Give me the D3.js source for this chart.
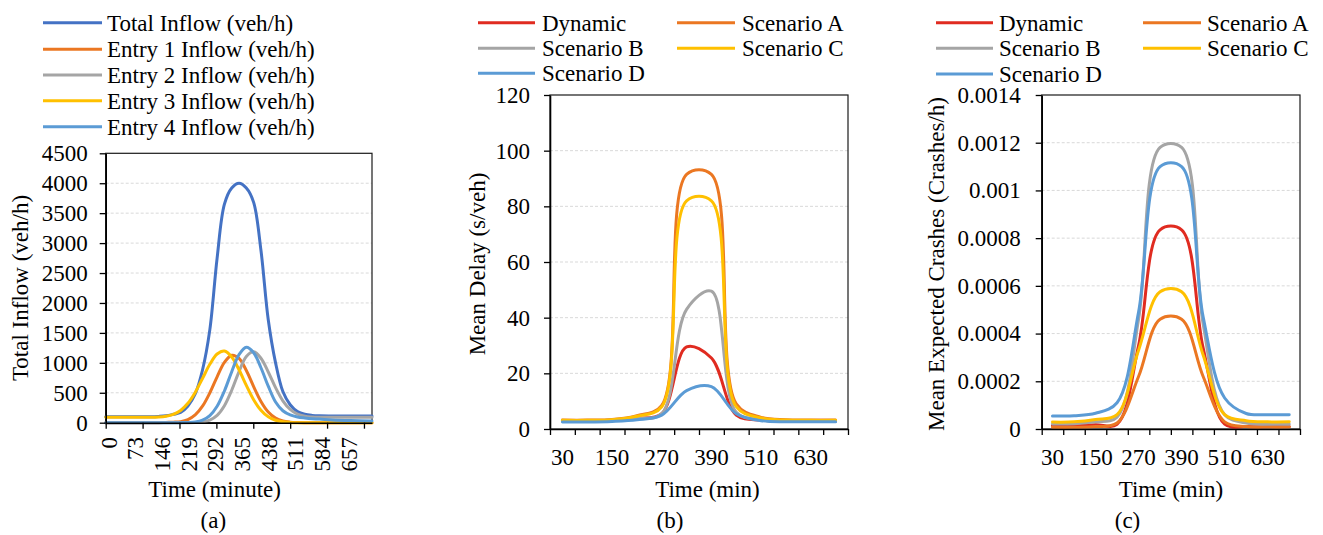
<!DOCTYPE html>
<html>
<head>
<meta charset="utf-8">
<script src="https://cdn.jsdelivr.net/npm/d3@7"></script>
<style>
  html, body { margin: 0; padding: 0; background: #fff; }
  svg text { font-family: "Liberation Serif", "Times New Roman", Tinos, "DejaVu Serif", serif !important; }
</style>
</head>
<body>
<svg id="chart" width="1323" height="535"></svg>
<script>
// ---------- (a) inflow profiles, sampled in minutes ----------
const inflowTimes = [0, 60, 120, 145, 165, 185, 205, 225, 245, 265, 285, 305, 325, 345, 365,
  385, 405, 425, 445, 465, 485, 505, 525, 545, 565, 585, 620, 670, 729];
const totalInflow = [100, 100, 100, 105, 115, 140, 170, 280, 480, 880, 1550, 2750, 3650, 3920, 4000,
  3920, 3680, 2880, 1720, 1000, 520, 300, 185, 140, 122, 115, 112, 110, 110];
const entry1Inflow = [0, 0, 0, 0, 5, 9, 18, 52, 130, 276, 498, 767, 1007, 1127, 1074,
  872, 603, 356, 179, 77, 28, 9, 2, 0, 0, 0, 0, 0, 0];
const entry2Inflow = [0, 0, 0, 0, 0, 0, 0, 0, 3, 13, 44, 123, 284, 542, 853,
  1106, 1184, 1076, 847, 585, 366, 221, 143, 108, 95, 91, 90, 90, 90];
const entry3Inflow = [90, 90, 91, 96, 109, 140, 205, 324, 506, 739, 975, 1148, 1198, 1099, 884,
  623, 384, 208, 98, 41, 15, 5, 1, 0, 0, 0, 0, 0, 0];
const entry4Inflow = [0, 0, 0, 0, 0, 0, 1, 3, 12, 42, 118, 274, 530, 852, 1137,
  1260, 1169, 918, 610, 345, 200, 130, 95, 78, 66, 60, 45, 35, 30];
const inflowNames = ["Total Inflow (veh/h)", "Entry 1 Inflow (veh/h)", "Entry 2 Inflow (veh/h)",
  "Entry 3 Inflow (veh/h)", "Entry 4 Inflow (veh/h)"];
const inflowColors = ["#4472C4", "#EB7722", "#A5A5A5", "#FFC000", "#5B9BD5"];
const inflowYTicks = [0, 500, 1000, 1500, 2000, 2500, 3000, 3500, 4000, 4500];
const inflowXLabels = [0, 73, 146, 219, 292, 365, 438, 511, 584, 657];
const inflowXTickMarks = [0, 101, 202, 303, 404, 505, 606, 707];

// ---------- (b) and (c) scenario results per time period ----------
const timeCats = [30, 90, 150, 210, 270, 330, 390, 450, 510, 570, 630, 690];
const timeLabels = [30, 150, 270, 390, 510, 630];
const scenarioNames = ["Dynamic", "Scenario A", "Scenario B", "Scenario C", "Scenario D"];
const scenarioColors = ["#E02B20", "#EB7722", "#A5A5A5", "#FFC000", "#5B9BD5"];

const delayDynamic = [3.0, 3.0, 3.1, 3.8, 5.5, 29.5, 25.5, 5.0, 3.2, 2.9, 2.8, 2.8];
const delayA = [3.2, 3.2, 3.4, 4.8, 8.5, 91.5, 91.5, 9.0, 4.2, 3.3, 3.2, 3.2];
const delayB = [3.0, 3.0, 3.1, 3.8, 5.5, 43.0, 49.5, 6.0, 3.3, 2.9, 2.9, 2.9];
const delayC = [3.1, 3.1, 3.3, 4.6, 8.0, 82.0, 82.0, 8.0, 4.0, 3.2, 3.1, 3.1];
const delayD = [2.5, 2.5, 2.7, 3.3, 5.0, 13.8, 15.2, 5.5, 3.0, 2.6, 2.6, 2.6];
const delayYTicks = [0, 20, 40, 60, 80, 100, 120];

const crashDynamic = [0.000014, 0.000014, 0.000018, 0.00002, 0.00035, 0.000835, 0.000835, 0.00034, 0.00002, 0.00001, 0.00001, 0.00001];
const crashA = [0.000007, 0.000007, 0.00001, 0.000025, 0.00022, 0.00046, 0.00046, 0.00022, 0.00003, 0.00001, 0.000008, 0.000008];
const crashB = [0.000021, 0.000022, 0.00003, 0.00005, 0.00046, 0.00118, 0.00118, 0.00044, 0.00006, 0.000025, 0.00002, 0.00002];
const crashC = [0.000029, 0.00003, 0.00004, 0.00006, 0.00033, 0.000575, 0.000575, 0.00031, 0.00006, 0.000035, 0.00003, 0.00003];
const crashD = [0.000054, 0.000056, 0.000066, 0.00011, 0.00049, 0.0011, 0.0011, 0.00047, 0.00013, 0.000065, 0.00006, 0.00006];
const crashYTicks = [0, 0.0002, 0.0004, 0.0006, 0.0008, 0.001, 0.0012, 0.0014];

// ---------- drawing ----------
const svg = d3.select("#chart");
const FS = 23;
const LINE_W = 3;

function styleAxis(g) {
  g.attr("font-family", null).attr("font-size", null);
  g.select(".domain").attr("stroke", "#000").attr("stroke-width", 1.6);
  g.selectAll(".tick line").attr("stroke", "#000").attr("stroke-width", 1.3);
  g.selectAll("text").attr("font-size", FS).attr("fill", "#000");
}

function frame(box, yScale, yTicks) {
  // horizontal gridlines
  svg.append("g").selectAll("line")
    .data(yTicks.filter(t => t !== 0 && t !== yTicks[yTicks.length - 1]))
    .join("line")
    .attr("x1", box.left).attr("x2", box.right)
    .attr("y1", d => yScale(d)).attr("y2", d => yScale(d))
    .attr("stroke", "#D9D9D9").attr("stroke-width", 1).attr("stroke-dasharray", "3,2");
  // plot border
  svg.append("rect")
    .attr("x", box.left).attr("y", box.top)
    .attr("width", box.right - box.left).attr("height", box.bottom - box.top)
    .attr("fill", "none").attr("stroke", "#1a1a1a").attr("stroke-width", 1.2);
}

function legend(items, colors, cols, rowYs, colX) {
  items.forEach((name, i) => {
    const r = Math.floor(i / cols), c = i % cols;
    const y = rowYs[r], x = colX[c];
    svg.append("line").attr("x1", x[0]).attr("x2", x[1]).attr("y1", y).attr("y2", y)
      .attr("stroke", colors[i]).attr("stroke-width", LINE_W);
    svg.append("text").attr("x", x[2]).attr("y", y + 8)
      .attr("font-size", FS).attr("fill", "#000").text(name);
  });
}

function yTitle(text, x, y) {
  svg.append("text").attr("transform", `translate(${x},${y}) rotate(-90)`)
    .attr("text-anchor", "middle").attr("font-size", FS).attr("fill", "#000").text(text);
}
function plainText(text, x, y) {
  svg.append("text").attr("x", x).attr("y", y).attr("text-anchor", "middle")
    .attr("font-size", FS).attr("fill", "#000").text(text);
}

// ===== Panel (a) =====
{
  const box = { left: 105.7, right: 372, top: 153.3, bottom: 422.7 };
  const x = d3.scaleLinear().domain([0, 729]).range([box.left, box.right]);
  const y = d3.scaleLinear().domain([0, 4500]).range([box.bottom, box.top]);
  frame(box, y, inflowYTicks);

  const series = [totalInflow, entry1Inflow, entry2Inflow, entry3Inflow, entry4Inflow];
  const line = d3.line().x((d, i) => x(inflowTimes[i])).y(d => y(d)).curve(d3.curveCatmullRom);
  series.forEach((s, k) => {
    svg.append("path").attr("d", line(s)).attr("fill", "none")
      .attr("stroke", inflowColors[k]).attr("stroke-width", LINE_W)
      .attr("stroke-linejoin", "round").attr("stroke-linecap", "round");
  });

  svg.append("g").attr("transform", `translate(${box.left},0)`)
    .call(d3.axisLeft(y).tickValues(inflowYTicks).tickFormat(d => String(d))
      .tickSize(6).tickPadding(12).tickSizeOuter(0))
    .call(styleAxis);
  svg.append("g").attr("transform", `translate(0,${box.bottom})`)
    .call(d3.axisBottom(x).tickValues(inflowXTickMarks).tickFormat("").tickSize(6).tickSizeOuter(0))
    .call(styleAxis);
  svg.append("g").selectAll("text").data(inflowXLabels).join("text")
    .attr("transform", d => `translate(${x(d) + 3},437) rotate(-90)`)
    .attr("text-anchor", "end").attr("dy", "0.35em")
    .attr("font-size", FS).attr("fill", "#000").text(d => d);

  yTitle("Total Inflow (veh/h)", 28, 288);
  plainText("Time (minute)", 214.6, 497);
  plainText("(a)", 213.3, 528);
  legend(inflowNames, inflowColors, 1, [22.7, 49.3, 75, 100.7, 126.7], [[43, 102, 107]]);
}

function scenarioPanel(box, seriesList, yDomain, yTicks, yFormat, pad, titleX, titleText, xTitleX, tagX, tag) {
  const xb = d3.scaleBand().domain(timeCats).range([box.left, box.right]);
  const cx = c => xb(c) + xb.bandwidth() / 2;
  const idx = d3.scaleLinear().domain([0, timeCats.length]).range([box.left, box.right]);
  const y = d3.scaleLinear().domain(yDomain).range([box.bottom, box.top]);
  frame(box, y, yTicks);

  const line = d3.line().x((d, i) => cx(timeCats[i])).y(d => y(d)).curve(d3.curveCatmullRom);
  seriesList.forEach((s, k) => {
    svg.append("path").attr("d", line(s)).attr("fill", "none")
      .attr("stroke", scenarioColors[k]).attr("stroke-width", LINE_W)
      .attr("stroke-linejoin", "round").attr("stroke-linecap", "round");
  });

  svg.append("g").attr("transform", `translate(${box.left},0)`)
    .call(d3.axisLeft(y).tickValues(yTicks).tickFormat(yFormat).tickSize(6).tickPadding(pad).tickSizeOuter(0))
    .call(styleAxis);
  svg.append("g").attr("transform", `translate(0,${box.bottom})`)
    .call(d3.axisBottom(idx).tickValues(d3.range(timeCats.length + 1)).tickFormat("").tickSize(6).tickSizeOuter(0))
    .call(styleAxis);
  svg.append("g").selectAll("text").data(timeLabels).join("text")
    .attr("x", d => cx(d)).attr("y", box.bottom + 36)
    .attr("text-anchor", "middle").attr("font-size", FS).attr("fill", "#000").text(d => d);

  yTitle(titleText, titleX, (box.top + box.bottom) / 2 + 2);
  plainText("Time (min)", xTitleX, 497);
  plainText(tag, tagX, 528);
}

// ===== Panel (b) =====
scenarioPanel({ left: 550, right: 848, top: 95, bottom: 429 },
  [delayDynamic, delayA, delayB, delayC, delayD], [0, 120], delayYTicks, d => String(d), 14,
  485, "Mean Delay (s/veh)", 707.5, 670, "(b)");
legend(scenarioNames, scenarioColors, 2, [22.7, 48.3, 73.3], [[478, 535, 542], [677, 735, 742]]);

// ===== Panel (c) =====
scenarioPanel({ left: 1041.7, right: 1300, top: 95, bottom: 429 },
  [crashDynamic, crashA, crashB, crashC, crashD], [0, 0.0014], crashYTicks, d3.format(".4~f"), 15,
  943.5, "Mean Expected Crashes (Crashes/h)", 1171, 1127.5, "(c)");
legend(scenarioNames, scenarioColors, 2, [22.7, 48.3, 74], [[936, 993, 999], [1143, 1201, 1207]]);
</script>
</body>
</html>
